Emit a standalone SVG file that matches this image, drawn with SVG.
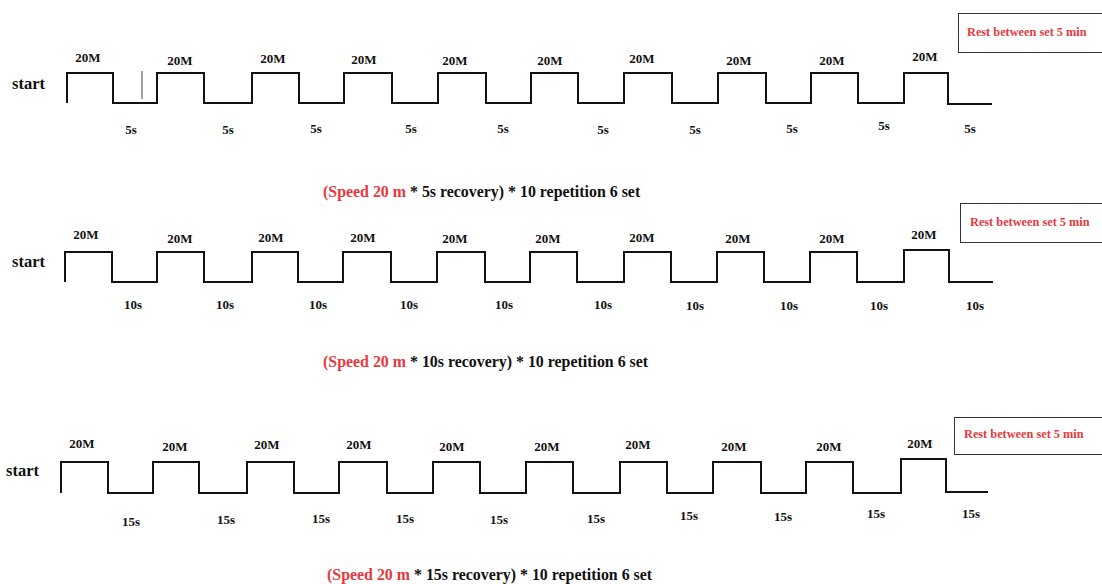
<svg xmlns="http://www.w3.org/2000/svg" width="1102" height="584" viewBox="0 0 1102 584">
<style>
.bg{fill:#ffffff}
.wave{fill:none;stroke:#111;stroke-width:2;stroke-linejoin:miter}
.t{font-family:"Liberation Serif","Times New Roman",serif;font-weight:bold;fill:#111}
.lbl{font-size:13px;text-anchor:middle}
.start{font-size:16.5px}
.cap{font-size:15.9px}
.red{fill:#e8383d}
.box{fill:#fff;stroke:#333;stroke-width:1}
.rest{font-size:12.3px;fill:#e8383d}
</style>
<rect class="bg" x="0" y="0" width="1102" height="584"/>

<g id="set1">
  <text class="t start" x="12" y="89">start</text>
  <path class="wave" d="M67 103 V73 H113 V103 H157 V73 H204 V103 H252 V73 H299 V103 H344 V73 H392 V103 H438 V73 H486 V103 H531 V73 H578 V103 H624 V73 H672 V103 H718 V73 H766 V103 H811 V73 H858 V103 H904 V73 H948 V104 H992"/>
  <line x1="142" y1="71" x2="142" y2="99" stroke="#444" stroke-width="1"/>
  <g class="t lbl">
    <text x="88" y="61.5">20M</text><text x="180" y="64.5">20M</text><text x="273" y="62.5">20M</text><text x="364" y="63.5">20M</text><text x="455" y="64.5">20M</text><text x="550" y="64.5">20M</text><text x="642" y="62.5">20M</text><text x="739" y="64.5">20M</text><text x="832" y="64.5">20M</text><text x="925" y="60.5">20M</text>
    <text x="131" y="133.5">5s</text><text x="228" y="133.5">5s</text><text x="316" y="132.5">5s</text><text x="411" y="132.5">5s</text><text x="503" y="132.5">5s</text><text x="603" y="133.5">5s</text><text x="695" y="133.5">5s</text><text x="792" y="132.5">5s</text><text x="884" y="129.5">5s</text><text x="970" y="132.5">5s</text>
  </g>
  <rect class="box" x="958.5" y="13.5" width="150" height="39"/>
  <text class="t rest" x="967" y="36">Rest between set 5 min</text>
  <text class="t cap" x="323" y="197"><tspan class="red">(</tspan><tspan class="red">Speed 20 m</tspan> * 5s recovery) * 10 repetition 6 set</text>
</g>

<g id="set2">
  <text class="t start" x="12" y="267">start</text>
  <path class="wave" d="M65 282 V252 H112 V282 H157 V252 H204 V282 H252 V252 H298 V282 H343 V252 H391 V282 H437 V252 H485 V282 H530 V252 H577 V282 H624 V252 H671 V282 H717 V252 H764 V282 H810 V252 H857 V282 H904 V250 H949 V282 H993"/>
  <g class="t lbl">
    <text x="86" y="238.5">20M</text><text x="180" y="242.5">20M</text><text x="271" y="241.5">20M</text><text x="363" y="241.5">20M</text><text x="455" y="242.5">20M</text><text x="548" y="242.5">20M</text><text x="642" y="241.5">20M</text><text x="738" y="242.5">20M</text><text x="832" y="242.5">20M</text><text x="924" y="238.5">20M</text>
    <text x="133" y="308.5">10s</text><text x="225" y="308.5">10s</text><text x="318" y="308.5">10s</text><text x="409" y="308.5">10s</text><text x="504" y="308.5">10s</text><text x="603" y="308.5">10s</text><text x="695" y="309.5">10s</text><text x="789" y="309.5">10s</text><text x="879" y="309.5">10s</text><text x="975" y="309.5">10s</text>
  </g>
  <rect class="box" x="960.5" y="203.5" width="150" height="39"/>
  <text class="t rest" x="970" y="226">Rest between set 5 min</text>
  <text class="t cap" x="323" y="367"><tspan class="red">(Speed 20 m</tspan> * 10s recovery) * 10 repetition 6 set</text>
</g>

<g id="set3">
  <text class="t start" x="6" y="476">start</text>
  <path class="wave" d="M61 493 V462 H108 V493 H153 V462 H199 V493 H247 V462 H294 V493 H339 V462 H387 V493 H433 V462 H480 V493 H526 V462 H573 V493 H620 V462 H667 V493 H713 V462 H761 V493 H806 V462 H853 V493 H901 V459 H946 V492 H988"/>
  <g class="t lbl">
    <text x="82" y="447.5">20M</text><text x="175" y="450.5">20M</text><text x="267" y="448.5">20M</text><text x="359" y="448.5">20M</text><text x="452" y="450.5">20M</text><text x="547" y="450.5">20M</text><text x="638" y="448.5">20M</text><text x="734" y="450.5">20M</text><text x="829" y="450.5">20M</text><text x="920" y="447.5">20M</text>
    <text x="131" y="525.5">15s</text><text x="226" y="523.5">15s</text><text x="321" y="522.5">15s</text><text x="405" y="522.5">15s</text><text x="499" y="523.5">15s</text><text x="596" y="522.5">15s</text><text x="689" y="519.5">15s</text><text x="783" y="520.5">15s</text><text x="876" y="517.5">15s</text><text x="971" y="517.5">15s</text>
  </g>
  <rect class="box" x="954.5" y="417.5" width="152" height="37"/>
  <text class="t rest" x="964" y="438">Rest between set 5 min</text>
  <text class="t cap" x="327" y="580"><tspan class="red">(Speed 20 m</tspan> * 15s recovery) * 10 repetition 6 set</text>
</g>
</svg>
